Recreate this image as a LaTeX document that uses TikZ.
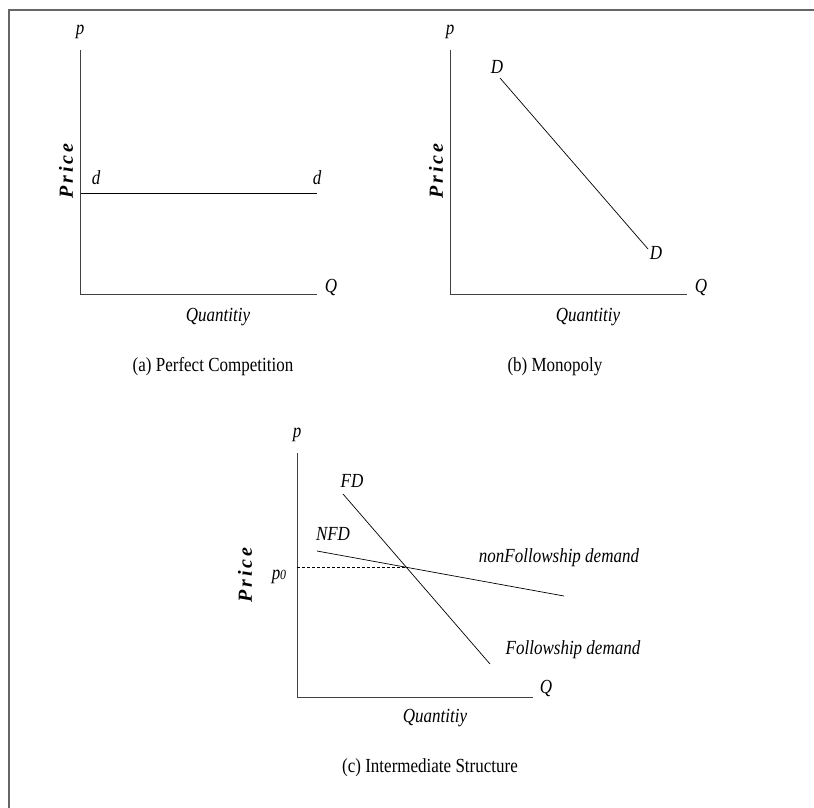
\documentclass[tikz,border=0pt]{standalone}
\usepackage{fontspec}
\setmainfont{Liberation Serif}
\usetikzlibrary{intersections}
\begin{document}
\begin{tikzpicture}[x=1pt,y=-1pt,
  lbl/.style={font=\fontsize{20}{24}\selectfont\itshape, inner sep=0pt, xscale=0.85},
  pricelbl/.style={font=\fontsize{20}{24}\selectfont\bfseries\itshape\addfontfeature{LetterSpace=15}, inner sep=0pt, rotate=90},
  captxt/.style={font=\fontsize{20}{24}\selectfont, inner sep=0pt, xscale=0.85},
  axis/.style={draw=black!75, line width=0.9pt},
  curve/.style={draw=black, line width=0.7pt},
  guide/.style={draw=black, line width=0.6pt, dash pattern=on 3pt off 2pt},
  frame/.style={draw=black!60, line width=2pt}]
\useasboundingbox (0,0) rectangle (814,807);
% frame
\coordinate (fbl) at (9,808);
\coordinate (ftl) at (9,10);
\coordinate (ftr) at (815,10);
\draw[frame] (fbl) -- (ftl) -- (ftr);

% ---------- (a) Perfect Competition ----------
\coordinate (ao) at (80.7,294);
\coordinate (ay) at (80.7,50);
\coordinate (ax) at (317,294);
\draw[axis] (ay) -- (ao) -- (ax);
\coordinate (ad1) at (80.7,193);
\coordinate (ad2) at (317,193);
\draw[curve] (ad1) -- (ad2);
\node[lbl] (ap) at (80,32) {p};
\node[lbl] (aQ) at (331,287) {Q};
\node[lbl] (adl) at (96,178) {d};
\node[lbl] (adr) at (317,178) {d};
\node[lbl] (aqty) at (218,317) {Quantitiy};
\node[pricelbl] (aprice) at (66,171) {Price};
\node[captxt] (acap) at (213,367) {(a) Perfect Competition};

% ---------- (b) Monopoly ----------
\coordinate (bo) at (450.7,294);
\coordinate (by) at (450.7,50);
\coordinate (bx) at (687,294);
\draw[axis] (by) -- (bo) -- (bx);
\coordinate (bd1) at (500,78);
\coordinate (bd2) at (648,249);
\draw[curve] (bd1) -- (bd2);
\node[lbl] (bp) at (450,32) {p};
\node[lbl] (bQ) at (701,287) {Q};
\node[lbl] (bDl) at (497,67) {D};
\node[lbl] (bDr) at (656,253) {D};
\node[lbl] (bqty) at (588,317) {Quantitiy};
\node[pricelbl] (bprice) at (436,171) {Price};
\node[captxt] (bcap) at (555,367) {(b) Monopoly};

% ---------- (c) Intermediate Structure ----------
\coordinate (co) at (297.3,697);
\coordinate (cy) at (297.3,453);
\coordinate (cx) at (533,697);
\draw[axis] (cy) -- (co) -- (cx);
\coordinate (fd1) at (343,494);
\coordinate (fd2) at (490,664);
\coordinate (nfd1) at (317,551);
\coordinate (nfd2) at (564,596);
\draw[curve, name path=fd] (fd1) -- (fd2);
\draw[curve, name path=nfd] (nfd1) -- (nfd2);
\path[name intersections={of=fd and nfd, by=ci}];
\coordinate (cp0) at (co |- ci);
\draw[guide] (cp0) -- (ci);
\node[lbl] (cp) at (297,435) {p};
\node[lbl] (cQ) at (546,688) {Q};
\node[lbl] (cFD) at (352,481) {FD};
\node[lbl] (cNFD) at (333,534) {NFD};
\node[lbl] (cpz) at (279,577) {p\kern-0.5pt{\fontsize{14}{16}\selectfont 0}};
\node[lbl] (cnfdl) at (559,558) {nonFollowship demand};
\node[lbl] (cfdl) at (573,650) {Followship demand};
\node[lbl] (cqty) at (435,718) {Quantitiy};
\node[pricelbl] (cprice) at (245,575) {Price};
\node[captxt] (ccap) at (430,768) {(c) Intermediate Structure};
\end{tikzpicture}
\end{document}
